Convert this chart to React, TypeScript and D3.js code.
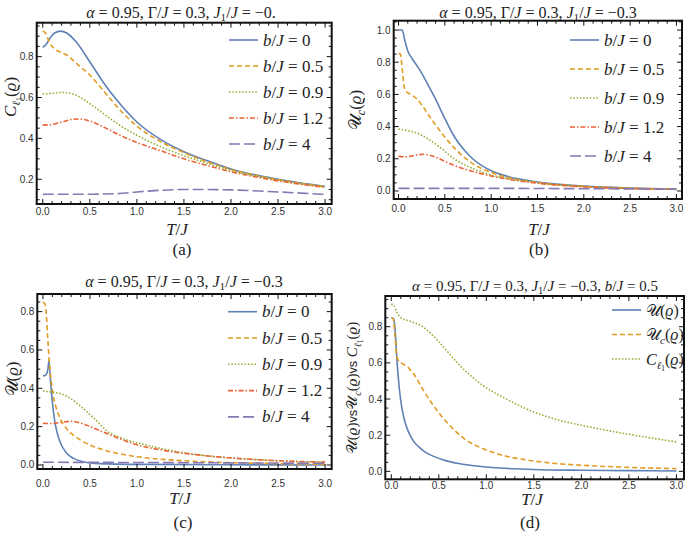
import React from 'react';
import * as d3 from 'd3';

type P = [number, number];

// ---------- data ----------
const xTickValues = [0, 0.5, 1.0, 1.5, 2.0, 2.5, 3.0];
const bValues = ['0', '0.5', '0.9', '1.2', '4'];
const yTicksA = [0.2, 0.4, 0.6, 0.8];
const yTicksB = [0, 0.2, 0.4, 0.6, 0.8, 1.0];
const yTicksC = [0, 0.2, 0.4, 0.6, 0.8];
const yTicksD = [0, 0.2, 0.4, 0.6, 0.8];

// panel (a): C_l1
const aB0: P[] = [[0,0.845],[0.04,0.862],[0.08,0.893],[0.13,0.917],[0.19,0.925],[0.25,0.917],[0.35,0.875],[0.5,0.775],[0.65,0.67],[0.8,0.58],[1.0,0.48],[1.25,0.395],[1.5,0.335],[1.75,0.29],[2.0,0.25],[2.5,0.2],[3.0,0.165]];
const aB05: P[] = [[0,0.925],[0.03,0.915],[0.07,0.87],[0.12,0.84],[0.2,0.82],[0.28,0.8],[0.35,0.77],[0.5,0.71],[0.65,0.63],[0.8,0.55],[1.0,0.46],[1.25,0.385],[1.5,0.33],[1.75,0.285],[2.0,0.248],[2.5,0.198],[3.0,0.164]];
const aB09: P[] = [[0,0.618],[0.1,0.62],[0.2,0.625],[0.3,0.62],[0.4,0.6],[0.5,0.57],[0.65,0.52],[0.8,0.47],[1.0,0.415],[1.25,0.36],[1.5,0.315],[1.75,0.278],[2.0,0.244],[2.5,0.196],[3.0,0.163]];
const aB12: P[] = [[0,0.465],[0.1,0.468],[0.2,0.48],[0.3,0.492],[0.38,0.495],[0.5,0.485],[0.65,0.455],[0.8,0.42],[1.0,0.38],[1.25,0.34],[1.5,0.3],[1.75,0.267],[2.0,0.237],[2.5,0.192],[3.0,0.16]];
const aB4: P[] = [[0,0.127],[0.5,0.127],[0.8,0.13],[1.0,0.138],[1.25,0.146],[1.5,0.15],[1.75,0.15],[2.0,0.148],[2.5,0.138],[3.0,0.126]];

// panel (b): U_c
const bB0: P[] = [[0,1.0],[0.04,1.0],[0.07,0.93],[0.1,0.87],[0.15,0.82],[0.22,0.76],[0.3,0.68],[0.4,0.57],[0.5,0.45],[0.6,0.34],[0.7,0.26],[0.8,0.2],[1.0,0.125],[1.25,0.08],[1.5,0.056],[2.0,0.03],[2.5,0.018],[3.0,0.012]];
const bB05: P[] = [[0,0.855],[0.02,0.85],[0.04,0.76],[0.06,0.65],[0.08,0.62],[0.13,0.6],[0.2,0.57],[0.25,0.535],[0.35,0.45],[0.5,0.335],[0.65,0.24],[0.8,0.17],[1.0,0.115],[1.25,0.075],[1.5,0.052],[2.0,0.028],[2.5,0.017],[3.0,0.011]];
const bB09: P[] = [[0,0.385],[0.1,0.375],[0.2,0.36],[0.3,0.33],[0.45,0.27],[0.6,0.2],[0.8,0.14],[1.0,0.1],[1.25,0.07],[1.5,0.05],[2.0,0.027],[2.5,0.016],[3.0,0.01]];
const bB12: P[] = [[0,0.215],[0.08,0.212],[0.18,0.222],[0.27,0.228],[0.4,0.21],[0.55,0.17],[0.75,0.13],[1.0,0.093],[1.25,0.067],[1.5,0.048],[2.0,0.026],[2.5,0.015],[3.0,0.01]];
const bB4: P[] = [[0,0.016],[1.0,0.016],[2.0,0.014],[3.0,0.011]];

// panel (c): U
const cB0: P[] = [[0,0.465],[0.02,0.467],[0.035,0.472],[0.053,0.5],[0.064,0.545],[0.08,0.44],[0.1,0.33],[0.125,0.23],[0.15,0.17],[0.18,0.122],[0.25,0.062],[0.33,0.033],[0.43,0.017],[0.6,0.007],[1.0,0.003],[2.0,0.001],[3.0,0.0]];
const cB05: P[] = [[0,0.85],[0.02,0.84],[0.035,0.79],[0.05,0.67],[0.07,0.52],[0.09,0.43],[0.11,0.36],[0.14,0.3],[0.18,0.245],[0.25,0.19],[0.32,0.157],[0.4,0.13],[0.53,0.098],[0.65,0.078],[0.8,0.06],[1.0,0.043],[1.25,0.03],[1.5,0.022],[2.0,0.012],[2.5,0.007],[3.0,0.004]];
const cB09: P[] = [[0,0.385],[0.1,0.38],[0.2,0.37],[0.3,0.345],[0.42,0.298],[0.55,0.24],[0.68,0.178],[0.85,0.138],[1.1,0.104],[1.4,0.072],[1.7,0.05],[2.2,0.03],[2.6,0.02],[3.0,0.015]];
const cB12: P[] = [[0,0.218],[0.1,0.216],[0.2,0.223],[0.3,0.228],[0.45,0.21],[0.6,0.18],[0.8,0.14],[1.0,0.105],[1.3,0.075],[1.7,0.05],[2.2,0.03],[2.6,0.02],[3.0,0.015]];
const cB4: P[] = [[0,0.014],[1.0,0.013],[2.0,0.011],[3.0,0.009]];

// panel (d): b/J = 0.5
const dU: P[] = [[0,0.85],[0.025,0.845],[0.042,0.77],[0.06,0.61],[0.077,0.5],[0.095,0.41],[0.112,0.35],[0.14,0.28],[0.18,0.22],[0.23,0.17],[0.29,0.135],[0.36,0.105],[0.46,0.08],[0.58,0.058],[0.71,0.043],[0.85,0.032],[1.06,0.021],[1.3,0.014],[1.58,0.009],[2.0,0.006],[2.5,0.004],[3.0,0.002]];
const dUc: P[] = [[0,0.85],[0.02,0.845],[0.04,0.74],[0.055,0.65],[0.07,0.618],[0.12,0.595],[0.17,0.578],[0.24,0.536],[0.33,0.455],[0.44,0.366],[0.58,0.274],[0.77,0.18],[1.0,0.118],[1.2,0.085],[1.4,0.065],[1.7,0.045],[2.0,0.034],[2.5,0.022],[3.0,0.015]];
const dC: P[] = [[0,0.925],[0.03,0.915],[0.06,0.88],[0.1,0.85],[0.2,0.83],[0.33,0.8],[0.5,0.717],[0.7,0.597],[0.95,0.48],[1.2,0.403],[1.5,0.328],[1.75,0.285],[2.0,0.255],[2.5,0.205],[3.0,0.163]];

// ---------- styles ----------
const COLORS = ['#5E81B5', '#E19C24', '#8FB032', '#EB6235', '#8778B3'];
const DASHES = ['', '5,3', '1.5,1.8', '5,2,1.5,2', '11,4'];
const SERIF = '"Liberation Serif", "DejaVu Serif", serif';
const SANS = '"Liberation Sans", Arial, sans-serif';
const CAL = '"DejaVu Sans", "DejaVu Serif", serif';

const I = (t: string) => <tspan fontStyle="italic">{t}</tspan>;
const U = () => <tspan fontFamily={CAL}>𝒰</tspan>;

interface Cfg {
  x0: number; x1: number; y0: number; y1: number;
  xDom: [number, number]; yDom: [number, number];
  yTicks: number[];
  series: P[][];
  styleIdx: number[];
  xTickY: number;
  legendX: number; legendY: number; legendDy: number; legendFs: number;
  legendLabels: React.ReactNode[];
}

function Panel({ c }: { c: Cfg }) {
  const xs = d3.scaleLinear().domain(c.xDom).range([c.x0, c.x1]);
  const ys = d3.scaleLinear().domain(c.yDom).range([c.y1, c.y0]);
  const line = d3.line<P>().x(d => xs(d[0])).y(d => ys(d[1])).curve(d3.curveMonotoneX);
  const id = `clip${Math.round(c.x0)}_${Math.round(c.y0)}`;
  const xMinor = d3.range(-0.1, 3.11, 0.1).filter(v => v >= c.xDom[0] && v <= c.xDom[1]);
  const yMinor = d3.range(-0.2, 1.2, 0.05).filter(v => v >= c.yDom[0] && v <= c.yDom[1]);
  const isMajor = (v: number, step: number) => Math.abs(v / step - Math.round(v / step)) < 1e-6;
  const fmt = d3.format('.1f');
  const tickEls: React.ReactNode[] = [];
  xMinor.forEach((v, i) => {
    const L = isMajor(v, 0.5) ? 5 : 3;
    const x = xs(v);
    tickEls.push(<line key={'xb' + i} x1={x} x2={x} y1={c.y1} y2={c.y1 - L} />);
    tickEls.push(<line key={'xt' + i} x1={x} x2={x} y1={c.y0} y2={c.y0 + L} />);
  });
  yMinor.forEach((v, i) => {
    const L = isMajor(v, 0.2) ? 5 : 3;
    const y = ys(v);
    tickEls.push(<line key={'yl' + i} x1={c.x0} x2={c.x0 + L} y1={y} y2={y} />);
    tickEls.push(<line key={'yr' + i} x1={c.x1} x2={c.x1 - L} y1={y} y2={y} />);
  });
  return (
    <g>
      <defs>
        <clipPath id={id}>
          <rect x={c.x0} y={c.y0} width={c.x1 - c.x0} height={c.y1 - c.y0} />
        </clipPath>
      </defs>
      <g clipPath={`url(#${id})`}>
        {c.series.map((s, i) => (
          <path key={i} d={line(s) || ''} fill="none" stroke={COLORS[c.styleIdx[i]]}
            strokeWidth={1.6} strokeDasharray={DASHES[c.styleIdx[i]]} />
        ))}
      </g>
      <g stroke="#111" strokeWidth={1}>{tickEls}</g>
      <rect x={c.x0} y={c.y0} width={c.x1 - c.x0} height={c.y1 - c.y0} fill="none" stroke="#111" strokeWidth={2} />
      <g fontFamily={SANS} fontSize={10} fill="#333">
        {xTickValues.map(v => (
          <text key={'xl' + v} x={xs(v)} y={c.xTickY} textAnchor="middle">{fmt(v)}</text>
        ))}
        {c.yTicks.map(v => (
          <text key={'yl' + v} x={c.x0 - 3} y={ys(v) + 3.5} textAnchor="end">{fmt(v)}</text>
        ))}
      </g>
      <g>
        {c.legendLabels.map((lab, i) => {
          const y = c.legendY + i * c.legendDy;
          const si = c.styleIdx[i];
          return (
            <g key={'lg' + i}>
              <line x1={c.legendX} x2={c.legendX + 29} y1={y} y2={y} stroke={COLORS[si]} strokeWidth={1.6} strokeDasharray={DASHES[si]} />
              <text x={c.legendX + 34} y={y + 5.5} fontFamily={SERIF} fontSize={c.legendFs} fill="#222">{lab}</text>
            </g>
          );
        })}
      </g>
    </g>
  );
}

const bLab = (v: string) => <>{I('b')}/{I('J')} = {v}</>;

export default function App() {
  const panels: Cfg[] = [
    {
      x0: 36.7, x1: 331.7, y0: 22.7, y1: 204, xDom: [-0.064, 3.07], yDom: [0.079, 0.966],
      yTicks: yTicksA, series: [aB0, aB05, aB09, aB12, aB4], styleIdx: [0, 1, 2, 3, 4],
      xTickY: 214.5, legendX: 229, legendY: 40, legendDy: 26, legendFs: 17,
      legendLabels: bValues.map(bLab),
    },
    {
      x0: 393.7, x1: 682, y0: 20.7, y1: 199, xDom: [-0.052, 3.06], yDom: [-0.05, 1.058],
      yTicks: yTicksB, series: [bB0, bB05, bB09, bB12, bB4], styleIdx: [0, 1, 2, 3, 4],
      xTickY: 211.5, legendX: 570, legendY: 40, legendDy: 29, legendFs: 17,
      legendLabels: bValues.map(bLab),
    },
    {
      x0: 37.3, x1: 331.7, y0: 294, y1: 469, xDom: [-0.06, 3.07], yDom: [-0.021, 0.892],
      yTicks: yTicksC, series: [cB0, cB05, cB09, cB12, cB4], styleIdx: [0, 1, 2, 3, 4],
      xTickY: 486.5, legendX: 228, legendY: 311.7, legendDy: 26.3, legendFs: 17,
      legendLabels: bValues.map(bLab),
    },
    {
      x0: 385.3, x1: 684, y0: 296, y1: 479.3, xDom: [-0.063, 3.08], yDom: [-0.044, 0.97],
      yTicks: yTicksD, series: [dU, dUc, dC], styleIdx: [0, 1, 2],
      xTickY: 488.5, legendX: 612, legendY: 310, legendDy: 24.5, legendFs: 16,
      legendLabels: [
        <><U />(<tspan fontStyle="italic">ϱ</tspan>)</>,
        <><U /><tspan fontStyle="italic" fontSize="70%" dy={4}>c</tspan><tspan dy={-4}>(</tspan><tspan fontStyle="italic">ϱ</tspan>)</>,
        <>{I('C')}<tspan fontStyle="italic" fontSize="65%" dy={4}>ℓ</tspan><tspan fontSize="50%" dy={2}>1</tspan><tspan dy={-6}>(</tspan><tspan fontStyle="italic">ϱ</tspan>)</>,
      ],
    },
  ];

  const title = (x: number, y: number, fs: number, j1: string, extra?: boolean) => (
    <text x={x} y={y} textAnchor="middle" fontFamily={SERIF} fontSize={fs} fill="#222">
      {I('α')} = 0.95, Γ/{I('J')} = 0.3, {I('J')}<tspan fontSize="70%" dy={3}>1</tspan><tspan dy={-3}>/</tspan>{I('J')} = {j1}
      {extra ? <>, {I('b')}/{I('J')} = 0.5</> : null}
    </text>
  );

  return (
    <svg width={685} height={535} style={{ display: 'block', position: 'absolute', left: 0, top: 0, background: '#fff' }}>
      <rect width={685} height={535} fill="#fff" />
      {panels.map((p, i) => <Panel key={i} c={p} />)}
      {title(181, 17.5, 16, '−0.')}
      {title(538, 17.5, 16, '−0.3')}
      {title(184, 287, 16, '−0.3')}
      {title(535, 291, 15, '−0.3', true)}

      <g fontFamily={SERIF} fontSize={17} fill="#222" textAnchor="middle">
        <text x={177} y={234.5}>{I('T')}/{I('J')}</text>
        <text x={539} y={234.5}>{I('T')}/{I('J')}</text>
        <text x={180} y={504}>{I('T')}/{I('J')}</text>
        <text x={532} y={505}>{I('T')}/{I('J')}</text>
        <text x={182} y={255}>(a)</text>
        <text x={539} y={255}>(b)</text>
        <text x={183} y={528}>(c)</text>
        <text x={530} y={528}>(d)</text>
      </g>

      <g fontFamily={SERIF} fontSize={17} fill="#222" textAnchor="middle">
        <text transform="translate(16,97) rotate(-90)">
          {I('C')}<tspan fontStyle="italic" fontSize="65%" dy={4}>ℓ</tspan><tspan fontSize="50%" dy={2}>1</tspan><tspan dy={-6}>(</tspan><tspan fontStyle="italic">ϱ</tspan>)
        </text>
        <text transform="translate(361,110) rotate(-90)">
          <U /><tspan fontStyle="italic" fontSize="70%" dy={4}>c</tspan><tspan dy={-4}>(</tspan><tspan fontStyle="italic">ϱ</tspan>)
        </text>
        <text transform="translate(18,379) rotate(-90)">
          <U />(<tspan fontStyle="italic">ϱ</tspan>)
        </text>
        <text transform="translate(357,388) rotate(-90)" fontSize={15}>
          <U />(<tspan fontStyle="italic">ϱ</tspan>)<tspan fontFamily={SANS} fontSize="85%">vs</tspan><U /><tspan fontStyle="italic" fontSize="70%" dy={4}>c</tspan><tspan dy={-4}>(</tspan><tspan fontStyle="italic">ϱ</tspan>)<tspan fontFamily={SANS} fontSize="85%">vs </tspan>{I('C')}<tspan fontStyle="italic" fontSize="65%" dy={4}>ℓ</tspan><tspan fontSize="50%" dy={2}>1</tspan><tspan dy={-6}>(</tspan><tspan fontStyle="italic">ϱ</tspan>)
        </text>
      </g>
    </svg>
  );
}
